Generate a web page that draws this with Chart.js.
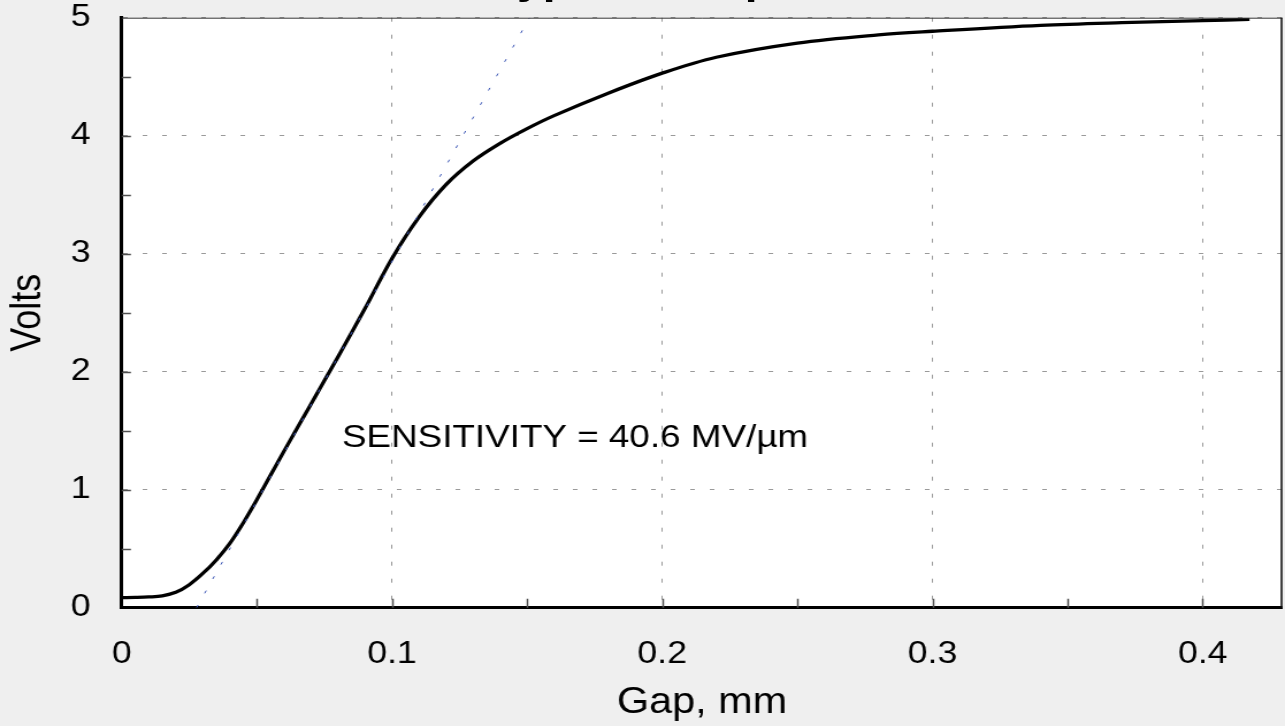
<!DOCTYPE html>
<html>
<head>
<meta charset="utf-8">
<script src="https://cdn.jsdelivr.net/npm/chart.js@4.4.1/dist/chart.umd.min.js"></script>
<style>
html,body{margin:0;padding:0;background:#efefef;overflow:hidden;width:1285px;height:726px;}
#wrap{position:absolute;left:0;top:0;width:1117px;height:726px;transform:scaleX(1.1504);transform-origin:0 0;}
#title{position:absolute;top:-40px;left:428px;font:bold 40px "Liberation Sans",Arial,sans-serif;line-height:40px;white-space:nowrap;color:#000;}
canvas{display:block;}
</style>
</head>
<body>
<div id="wrap"><canvas id="c"></canvas><div id="title">Typical Response</div></div>
<script>
// ---- data ----
const gapMm = [0, 0.005, 0.01, 0.015, 0.02, 0.025, 0.03, 0.035, 0.04, 0.045, 0.05, 0.055, 0.06, 0.07, 0.08, 0.09, 0.1, 0.11, 0.12, 0.13, 0.14, 0.15, 0.16, 0.18, 0.2, 0.22, 0.25, 0.28, 0.3, 0.34, 0.37, 0.4, 0.4173];
const volts = [0.085, 0.087, 0.091, 0.100, 0.130, 0.195, 0.290, 0.405, 0.545, 0.720, 0.915, 1.120, 1.325, 1.725, 2.125, 2.535, 2.960, 3.310, 3.585, 3.785, 3.935, 4.060, 4.170, 4.360, 4.530, 4.665, 4.785, 4.855, 4.885, 4.935, 4.958, 4.975, 4.986];
const tangentGap = [0.0277, 0.1509];
const tangentVolts = [0, 5];
const xTickValues = [0, 0.1, 0.2, 0.3, 0.4];
const xTickLabels = ['0', '0.1', '0.2', '0.3', '0.4'];
const yTickValues = [0, 1, 2, 3, 4, 5];
const yTickLabels = ['0', '1', '2', '3', '4', '5'];
const xTickMarks = [0.05, 0.1, 0.15, 0.2, 0.25, 0.3, 0.35, 0.4];
const yTickMarks = [0.5, 1, 1.5, 2, 2.5, 3, 3.5, 4, 4.5];
const xRange = [0, 0.4295];
const yRange = [0, 5];
const xTitle = 'Gap, mm';
const yTitle = 'Volts';
const sensitivityLabel = 'SENSITIVITY = 40.6 MV/µm';
const sensitivityAnchor = [0.0815, 1.362]; // [gap, volts] of text baseline start

const FONT = '"Liberation Sans", Arial, Helvetica, sans-serif';

const framePlugin = {
  id: 'frame',
  beforeDraw(chart) {
    const {ctx, chartArea: a, width, height} = chart;
    ctx.save();
    ctx.fillStyle = '#efefef';
    ctx.fillRect(0, 0, width, height);
    ctx.fillStyle = '#ffffff';
    ctx.fillRect(a.left, a.top, a.right - a.left, a.bottom - a.top);
    ctx.restore();
  },
  afterDraw(chart) {
    const {ctx, chartArea: a} = chart;
    const xs = chart.scales.x, ys = chart.scales.y;
    ctx.save();
    // inward tick marks
    ctx.strokeStyle = '#505050';
    ctx.lineWidth = 1.5;
    ctx.beginPath();
    xTickMarks.forEach(v => {
      const px = Math.round(xs.getPixelForValue(v)) + 0.5;
      ctx.moveTo(px, a.bottom);
      ctx.lineTo(px, a.bottom - 9);
    });
    yTickMarks.forEach(v => {
      const py = Math.round(ys.getPixelForValue(v)) + 0.5;
      ctx.moveTo(a.left, py);
      ctx.lineTo(a.left + 8, py);
    });
    ctx.stroke();
    // top and right frame
    ctx.strokeStyle = '#333333';
    ctx.lineWidth = 1;
    ctx.beginPath();
    ctx.moveTo(a.left, a.top + 0.5);
    ctx.lineTo(a.right, a.top + 0.5);
    ctx.stroke();
    ctx.lineWidth = 1.6;
    ctx.strokeStyle = '#111111';
    ctx.beginPath();
    ctx.moveTo(a.right - 0.8, a.top);
    ctx.lineTo(a.right - 0.8, a.bottom);
    ctx.stroke();
    // annotation
    ctx.fillStyle = '#000';
    ctx.font = '32px ' + FONT;
    ctx.textBaseline = 'alphabetic';
    ctx.textAlign = 'left';
    ctx.fillText(sensitivityLabel, xs.getPixelForValue(sensitivityAnchor[0]), ys.getPixelForValue(sensitivityAnchor[1]));
    ctx.restore();
  }
};

new Chart(document.getElementById('c'), {
  type: 'line',
  data: {
    datasets: [
      {
        label: 'Tangent',
        data: tangentGap.map((g, i) => ({x: g, y: tangentVolts[i]})),
        borderColor: '#3a55b5',
        borderWidth: 1,
        borderDash: [3, 13],
        pointRadius: 0,
        fill: false
      },
      {
        label: 'Output',
        data: gapMm.map((g, i) => ({x: g, y: volts[i]})),
        borderColor: '#000000',
        borderWidth: 3.3,
        pointRadius: 0,
        tension: 0.35,
        fill: false
      }
    ]
  },
  options: {
    responsive: true,
    maintainAspectRatio: false,
    animation: false,
    events: [],
    layout: {padding: {top: 17.7, right: 2.2, left: 0, bottom: 0}},
    plugins: {legend: {display: false}, tooltip: {enabled: false}, title: {display: false}},
    scales: {
      x: {
        type: 'linear',
        min: xRange[0], max: xRange[1],
        afterBuildTicks: s => { s.ticks = xTickValues.map(v => ({value: v})); },
        afterFit: s => { s.height = 118.3; s.paddingLeft = 0; s.paddingRight = 0; },
        grid: {color: '#9a9a9a', lineWidth: 1, drawTicks: false},
        border: {color: '#000', width: 3, dash: [4, 13]},
        ticks: {
          padding: 28, color: '#000', maxRotation: 0, autoSkip: false,
          font: {size: 31, family: FONT},
          callback: v => xTickLabels[xTickValues.indexOf(v)]
        },
        title: {display: true, text: xTitle, color: '#000', font: {size: 36, family: FONT}, padding: {top: 0, bottom: 1}}
      },
      y: {
        type: 'linear',
        min: yRange[0], max: yRange[1],
        afterBuildTicks: s => { s.ticks = yTickValues.map(v => ({value: v})); },
        afterFit: s => { s.width = 105.8; s.paddingTop = 0; s.paddingBottom = 0; },
        grid: {color: '#9a9a9a', lineWidth: 1, drawTicks: false},
        border: {color: '#000', width: 3, dash: [4, 13]},
        ticks: {
          padding: 27, color: '#000', autoSkip: false,
          font: {size: 31, family: FONT},
          callback: v => yTickLabels[yTickValues.indexOf(v)]
        },
        title: {display: true, text: yTitle, color: '#000', font: {size: 36, family: FONT}, padding: {top: 3, bottom: 0}}
      }
    }
  },
  plugins: [framePlugin]
});
</script>
</body>
</html>
